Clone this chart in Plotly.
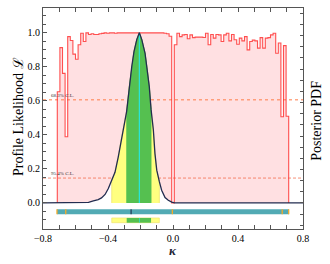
import numpy as np
import plotly.graph_objects as go

# ---------------- data ----------------
# Profile likelihood histogram (bins of constant width starting at bin_start)
bin_start = -0.712
bin_width = 0.016
profile_L = [0.654, 0.913, 0.762, 0.389, 0.978, 0.955, 0.875, 0.845, 0.93, 0.998, 0.949,
             1.0, 0.99, 0.995, 0.99, 0.99, 0.995, 0.997, 1.0, 0.998, 1.0, 1.0, 0.998,
             1.0, 1.0, 1.0, 1.0, 1.0, 1.0, 1.0, 1.0, 1.0, 1.0, 1.0, 1.0, 1.0, 1.0, 1.0, 1.0,
             1.0, 1.0, 0.998, 0.995, 0.98,
             0.0,
             0.93, 0.998, 0.978, 0.988, 0.99, 0.965, 0.988, 0.972, 0.975, 0.975, 0.975,
             0.973, 0.998, 0.93, 0.99, 0.969, 0.99, 0.988, 0.949, 0.988, 0.998, 0.953,
             0.99, 0.959, 0.933, 0.969, 0.953, 0.978, 0.90, 0.949, 0.957, 0.953, 0.91,
             0.972, 0.91, 0.969, 0.972, 0.988, 0.998, 0.88, 0.94, 0.507, 0.925, 0.51]

# Posterior PDF (normalised to peak = 1)
post_kappa = [-0.8, -0.57, -0.52, -0.49, -0.46, -0.44, -0.418, -0.398, -0.377, -0.357,
              -0.337, -0.316, -0.295, -0.285, -0.269, -0.254, -0.240, -0.223, -0.207,
              -0.192, -0.172, -0.158, -0.146, -0.135, -0.121, -0.111, -0.100, -0.084,
              -0.070, -0.049, -0.029, -0.008, 0.01, 0.8]
post_pdf = [0.0, 0.0, 0.004, 0.012, 0.02, 0.03, 0.05, 0.085, 0.135, 0.18,
            0.27, 0.39, 0.487, 0.54, 0.684, 0.80, 0.89, 0.96, 1.0,
            0.96, 0.88, 0.78, 0.684, 0.55, 0.43, 0.29, 0.193, 0.125,
            0.075, 0.032, 0.016, 0.005, 0.0, 0.0]

ci95 = [-0.377, -0.084]
ci68 = [-0.285, -0.135]
kappa_peak = -0.207
kappa_mean = -0.258

cl_levels = [0.6065, 0.1465]
cl_labels = ["68.3% C.L.", "95.4% C.L."]

profile_range = [-0.714, 0.714]
profile_marks = [-0.714, -0.660, -0.004, 0.672, 0.712]

# ---------------- figure ----------------
SERIF = "Liberation Serif, Times New Roman, serif"
fig = go.Figure()

edges = bin_start + bin_width * np.arange(len(profile_L) + 1)
sx = [edges[0]] + list(edges[:-1]) + [edges[-1], edges[-1]]
sy = [0.0] + list(profile_L) + [profile_L[-1], 0.0]

# pink filled histogram
fig.add_trace(go.Scatter(x=sx, y=sy, mode="lines", line=dict(width=0, shape="hv"),
                         fill="tozeroy", fillcolor="rgb(255,224,226)", hoverinfo="skip",
                         showlegend=False))

# CL lines
for lvl, dash, w, col in zip(cl_levels, ["dot", "3px,2px"], [1.6, 0.7],
                             ["rgba(255,130,80,0.7)", "rgba(240,80,40,0.9)"]):
    fig.add_trace(go.Scatter(x=[-0.8, 0.8], y=[lvl, lvl], mode="lines",
                             line=dict(color=col, width=w, dash=dash),
                             showlegend=False, hoverinfo="skip"))

pk = np.array(post_kappa)
pp = np.array(post_pdf)

# white under posterior
fig.add_trace(go.Scatter(x=pk, y=pp, mode="lines", line=dict(width=0),
                         fill="tozeroy", fillcolor="white", showlegend=False, hoverinfo="skip"))


def band(lo, hi, color, edge):
    m = (pk >= lo - 1e-9) & (pk <= hi + 1e-9)
    xs = [lo] + list(pk[m]) + [hi]
    ys = [0.0] + list(pp[m]) + [0.0]
    fig.add_trace(go.Scatter(x=xs, y=ys, mode="lines", fill="toself", fillcolor=color,
                             line=dict(color=edge, width=0.8), showlegend=False,
                             hoverinfo="skip"))


band(ci95[0], ci95[1], "rgb(255,255,128)", "rgb(240,230,110)")
band(ci68[0], ci68[1], "rgb(85,192,80)", "rgb(85,192,80)")

# red step line of the profile likelihood
fig.add_trace(go.Scatter(x=sx, y=sy, mode="lines",
                         line=dict(color="rgba(255,50,50,0.85)", width=1.1, shape="hv"),
                         showlegend=False, hoverinfo="skip"))

# cyan line at peak
fig.add_trace(go.Scatter(x=[kappa_peak, kappa_peak], y=[0, 1.0], mode="lines",
                         line=dict(color="rgb(40,230,220)", width=1.2),
                         showlegend=False, hoverinfo="skip"))

# posterior curve
fig.add_trace(go.Scatter(x=pk, y=pp, mode="lines", line=dict(color="rgb(35,45,80)", width=1.3),
                         showlegend=False, hoverinfo="skip"))


def rect(x0, x1, y0, y1, color, line=None):
    fig.add_trace(go.Scatter(x=[x0, x1, x1, x0, x0], y=[y0, y0, y1, y1, y0], mode="lines",
                             fill="toself", fillcolor=color,
                             line=dict(color=line or color, width=0.6 if line else 0),
                             showlegend=False, hoverinfo="skip"))


# teal profile-likelihood bar
TB0, TB1 = -0.037, -0.067
rect(profile_range[0], profile_range[1], TB0, TB1, "rgb(82,170,180)")
for m in profile_marks:
    rect(m - 0.004, m + 0.004, TB0, TB1, "rgb(245,170,40)")
rect(kappa_mean - 0.003, kappa_mean + 0.003, TB0, TB1, "rgb(20,30,60)")

# yellow / green posterior bar
PB0, PB1 = -0.088, -0.116
rect(ci95[0], ci95[1], PB0, PB1, "rgb(255,255,128)", "rgb(240,225,100)")
rect(ci68[0], ci68[1], PB0, PB1, "rgb(85,192,80)")
rect(kappa_peak - 0.002, kappa_peak + 0.002, PB0, PB1, "rgb(40,230,220)")

# CL labels
for lvl, lab in zip(cl_levels, cl_labels):
    fig.add_annotation(x=-0.765, y=lvl, text=lab, showarrow=False, xanchor="left",
                       yanchor="bottom", yshift=0,
                       font=dict(family=SERIF, size=5, color="#333"))

# axis titles
fig.add_annotation(xref="paper", yref="paper", x=-0.092, y=0.507, text="Profile Likelihood ℒ",
                   textangle=-90, showarrow=False, xanchor="center", yanchor="middle",
                   font=dict(family=SERIF, size=14, color="black"))
fig.add_annotation(xref="paper", yref="paper", x=1.054, y=0.49, text="Posterior PDF",
                   textangle=-90, showarrow=False, xanchor="center", yanchor="middle",
                   font=dict(family=SERIF, size=14, color="black"))
fig.add_annotation(xref="paper", yref="paper", x=0.5, y=-0.099, text="<b><i>κ</i></b>",
                   showarrow=False, xanchor="center", yanchor="middle",
                   font=dict(family=SERIF, size=13, color="#223"))

axcol = "#555"
fig.update_layout(
    width=330, height=264,
    margin=dict(l=43, r=27, t=8, b=35, autoexpand=False),
    paper_bgcolor="white", plot_bgcolor="white",
    showlegend=False,
    xaxis=dict(range=[-0.8, 0.8], tick0=-0.8, dtick=0.4, tickformat=".1f",
               ticks="inside", ticklen=4, tickcolor=axcol, tickwidth=0.8,
               showline=True, linecolor=axcol, linewidth=1, mirror="allticks",
               minor=dict(dtick=0.1, ticks="inside", ticklen=2.5, tickcolor=axcol, tickwidth=0.6),
               showgrid=False, zeroline=False, automargin=False,
               tickfont=dict(family=SERIF, size=10, color="black")),
    yaxis=dict(range=[-0.153, 1.146], tick0=0, tickformat=".1f",
               ticks="inside", ticklen=4, tickcolor=axcol, tickwidth=0.8,
               showline=True, linecolor=axcol, linewidth=1, mirror=True,
               minor=dict(dtick=0.05, ticks="inside", ticklen=2.5, tickcolor=axcol, tickwidth=0.6),
               showgrid=False, zeroline=False, automargin=False,
               tickvals=[0, 0.2, 0.4, 0.6, 0.8, 1.0],
               tickfont=dict(family=SERIF, size=10, color="black")),
    yaxis2=dict(range=[-0.153, 1.146], overlaying="y", side="right", tick0=0, dtick=0.0656,
                ticks="inside", ticklen=3, tickcolor=axcol, tickwidth=0.6, automargin=False,
                showticklabels=False, showgrid=False, zeroline=False, showline=False),
)
# dummy trace to activate yaxis2
fig.add_trace(go.Scatter(x=[None], y=[None], yaxis="y2", showlegend=False, hoverinfo="skip"))

fig.write_html("out.html", config={"displayModeBar": False},
               post_script="document.body.style.margin='0';document.body.style.padding='0';")
